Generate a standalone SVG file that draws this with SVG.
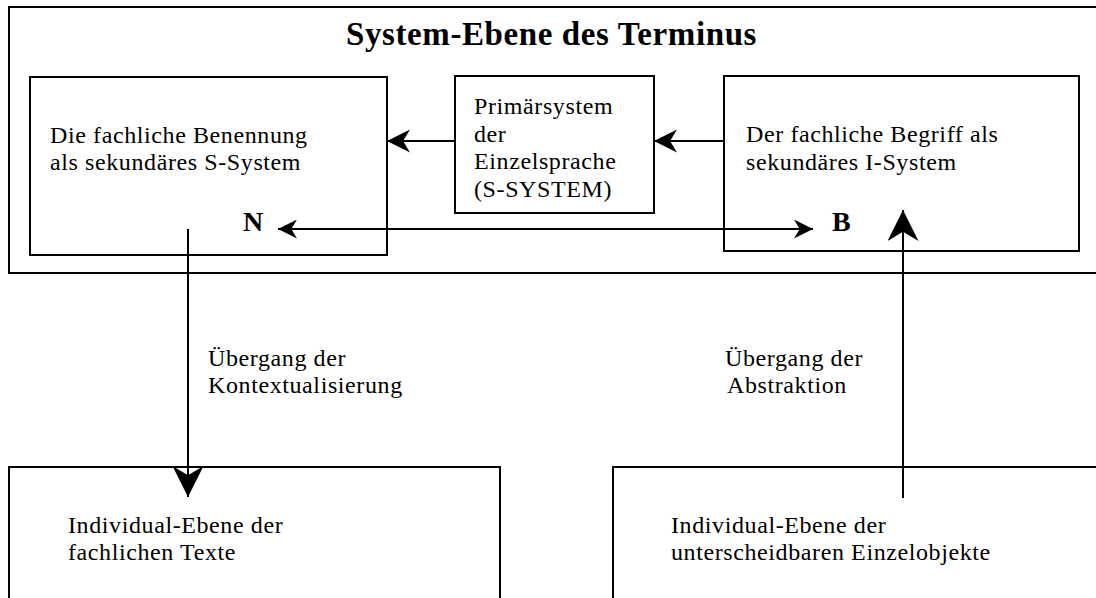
<svg xmlns="http://www.w3.org/2000/svg" width="1096" height="598" viewBox="0 0 1096 598">
  <style>
    .box { fill: none; stroke: #000; stroke-width: 2; }
    .wire { fill: none; stroke: #000; stroke-width: 2; }
    .txt { font-family: "Liberation Serif", "Times New Roman", serif; font-size: 24px; letter-spacing: 0.6px; fill: #000; }
    .title { font-family: "Liberation Serif", "Times New Roman", serif; font-size: 33px; font-weight: bold; letter-spacing: 0.6px; fill: #000; }
    .pole { font-family: "Liberation Serif", "Times New Roman", serif; font-size: 28px; font-weight: bold; fill: #000; }
  </style>
  <defs>
    <!-- stealth-style arrowhead, tip at (10,5) -->
    <marker id="head-m" viewBox="0 0 10 10" refX="10" refY="5" markerUnits="userSpaceOnUse" markerWidth="23" markerHeight="24" orient="auto-start-reverse">
      <path d="M10,5 L0,0 L3,5 L0,10 Z" fill="#000"/>
    </marker>
    <marker id="head-s" viewBox="0 0 10 10" refX="10" refY="5" markerUnits="userSpaceOnUse" markerWidth="20" markerHeight="19" orient="auto-start-reverse">
      <path d="M10,5 L0,0 L3,5 L0,10 Z" fill="#000"/>
    </marker>
    <marker id="head-l" viewBox="0 0 10 10" refX="10" refY="5" markerUnits="userSpaceOnUse" markerWidth="31" markerHeight="31" orient="auto-start-reverse">
      <path d="M10,5 L0,0 L3,5 L0,10 Z" fill="#000"/>
    </marker>
  </defs>

  <!-- system level frame -->
  <g id="system-level">
    <rect class="box" x="9" y="7" width="1100" height="266"/>
    <text class="title" x="346" y="45">System-Ebene des Terminus</text>
  </g>

  <g id="benennung">
    <rect class="box" x="30" y="77" width="357" height="178"/>
    <text class="txt" x="50" y="143">Die fachliche Benennung</text>
    <text class="txt" x="50" y="170">als sekundäres S-System</text>
    <text class="pole" x="243" y="231">N</text>
  </g>

  <g id="primaersystem">
    <rect class="box" x="455" y="76" width="199" height="137"/>
    <text class="txt" x="474" y="114">Primärsystem</text>
    <text class="txt" x="474" y="142">der</text>
    <text class="txt" x="474" y="169">Einzelsprache</text>
    <text class="txt" x="474" y="197">(S-SYSTEM)</text>
  </g>

  <g id="begriff">
    <rect class="box" x="724" y="76" width="355" height="175"/>
    <text class="txt" x="746" y="142">Der fachliche Begriff als</text>
    <text class="txt" x="746" y="170">sekundäres I-System</text>
    <text class="pole" x="832" y="231">B</text>
  </g>

  <g id="texte">
    <rect class="box" x="9" y="467" width="491" height="150"/>
    <text class="txt" x="68" y="533">Individual-Ebene der</text>
    <text class="txt" x="68" y="560">fachlichen Texte</text>
  </g>

  <g id="einzelobjekte">
    <rect class="box" x="613" y="467" width="500" height="150"/>
    <text class="txt" x="671" y="533">Individual-Ebene der</text>
    <text class="txt" x="671" y="560">unterscheidbaren Einzelobjekte</text>
  </g>

  <g id="connectors">
    <line class="wire" x1="724" y1="141" x2="654" y2="141" marker-end="url(#head-m)"/>
    <line class="wire" x1="455" y1="141" x2="387" y2="141" marker-end="url(#head-m)"/>
    <line class="wire" x1="278" y1="229" x2="813" y2="229" marker-start="url(#head-s)" marker-end="url(#head-s)"/>
    <line class="wire" x1="188" y1="229" x2="188" y2="497" marker-end="url(#head-l)"/>
    <line class="wire" x1="903" y1="498" x2="903" y2="210" marker-end="url(#head-l)"/>
    <text class="txt" x="208" y="366">Übergang der</text>
    <text class="txt" x="208" y="393">Kontextualisierung</text>
    <text class="txt" x="725" y="366">Übergang der</text>
    <text class="txt" x="727" y="393">Abstraktion</text>
  </g>
</svg>
